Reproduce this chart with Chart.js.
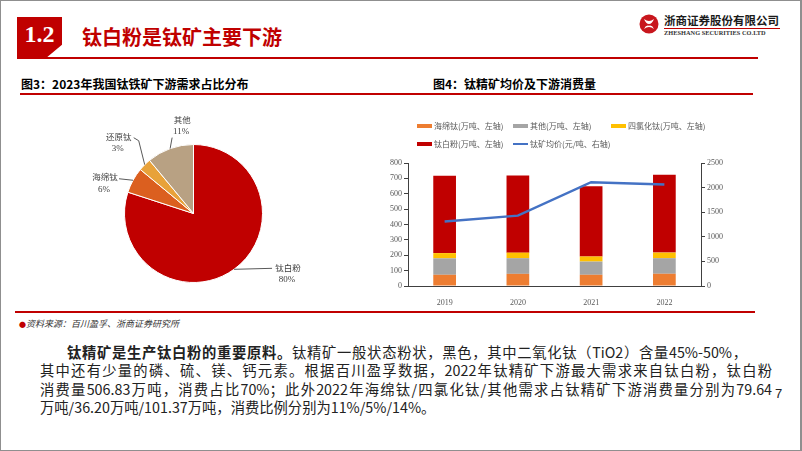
<!DOCTYPE html>
<html><head><meta charset="utf-8">
<script src="https://cdn.jsdelivr.net/npm/chart.js@4.4.1/dist/chart.umd.min.js"></script>
<style>
html,body{margin:0;padding:0;background:#fff;}
#page{position:relative;width:802px;height:451px;overflow:hidden;background:#fff;font-family:"Noto Sans CJK SC","Noto Sans",sans-serif;color:#111;}
#frame{position:absolute;left:0;top:0;width:802px;height:451px;box-sizing:border-box;border:1px solid #8f8f8f;border-right:2px solid #8f8f8f;pointer-events:none;}
.abs{position:absolute;white-space:nowrap;}
#secbox{left:17px;top:17px;width:45px;height:42px;background:#C00000;clip-path:polygon(0 0,100% 0,100% 66%,62% 100%,0 100%);}
#secnum{left:17px;top:19px;width:45px;text-align:center;color:#fff;font:bold 24px "Liberation Serif",serif;line-height:30px;}
#hline{left:17px;top:57px;width:741px;height:2px;background:#C00000;}
#title{left:82px;top:25px;font-weight:bold;font-size:20px;line-height:24px;color:#C00000;}
#logoTxt{left:664px;top:13px;font-weight:bold;font-size:11.5px;line-height:14px;color:#1a1a1a;}
#logoLine{left:664px;top:28px;width:116px;height:1px;background:#C00000;}
#logoEn{left:664px;top:29px;font:bold 6.3px "Liberation Serif",serif;line-height:8px;color:#333;letter-spacing:0.05px;}
.fig{top:76px;font-weight:bold;font-size:12px;line-height:16px;color:#000;}
#figline{left:20px;top:93px;width:733px;height:2px;background:#C00000;}
#noteline{left:15px;top:311px;width:740px;height:2px;background:#C00000;}
#note{left:19px;top:318px;font-size:9px;line-height:12px;font-style:italic;color:#333;}
#note span{color:#C00000;font-style:normal;font-size:7px;}
.para{font-size:14.3px;line-height:18px;color:#222;text-align:justify;text-align-last:justify;}
#pnum{left:775px;top:386px;font:13px "Liberation Sans",sans-serif;color:#222;}
canvas{position:absolute;}
</style></head>
<body>
<div id="page">
  <div class="abs" id="secbox"></div>
  <div class="abs" id="secnum">1.2</div>
  <div class="abs" id="hline"></div>
  <div class="abs" id="title">钛白粉是钛矿主要下游</div>
  <svg class="abs" style="left:639px;top:14px" width="20" height="20" viewBox="0 0 20 20">
    <circle cx="10" cy="10" r="9.5" fill="#C8161D"/>
    <path d="M5 5 Q10 9 15 5 Q13 10 10 10 Q7 10 5 5Z" fill="#fff"/>
    <path d="M5 15 Q10 11 15 15 Q13 10.8 10 11.8 Q7 10.8 5 15Z" fill="#fff"/>
  </svg>
  <div class="abs" id="logoTxt">浙商证券股份有限公司</div>
  <div class="abs" id="logoLine"></div>
  <div class="abs" id="logoEn">ZHESHANG SECURITIES CO.LTD</div>

  <div class="abs fig" style="left:21px">图3：2023年我国钛铁矿下游需求占比分布</div>
  <div class="abs fig" style="left:433px">图4：钛精矿均价及下游消费量</div>
  <div class="abs" id="figline"></div>

  <canvas id="pie" style="left:0px;top:100px;width:400px;height:205px" width="400" height="205"></canvas>
  <canvas id="bar" style="left:370px;top:100px;width:390px;height:205px" width="390" height="205"></canvas>

  <div class="abs" id="noteline"></div>
  <div class="abs" id="note"><span>●</span>资料来源：百川盈孚、浙商证券研究所</div>

  <div class="abs para" style="left:67px;top:343px;width:680px"><b>钛精矿是生产钛白粉的重要原料。</b>钛精矿一般状态粉状，黑色，其中二氧化钛（TiO2）含量45%-50%，</div>
  <div class="abs para" style="left:40px;top:361px;width:732px">其中还有少量的磷、硫、镁、钙元素。根据百川盈孚数据，2022年钛精矿下游最大需求来自钛白粉，钛白粉</div>
  <div class="abs para" style="left:40px;top:380px;width:732px">消费量506.83万吨，消费占比70%；此外2022年海绵钛/四氯化钛/其他需求占钛精矿下游消费量分别为79.64</div>
  <div class="abs para" style="left:40px;top:398px;text-align:left;text-align-last:auto">万吨/36.20万吨/101.37万吨，消费比例分别为11%/5%/14%。</div>
  <div class="abs" id="pnum">7</div>
  <div id="frame"></div>
</div>
<script>
// ---------- data ----------
const pieLabels = ['钛白粉', '海绵钛', '还原钛', '其他'];
const pieValues = [80, 6, 3, 11];

const years = ['2019', '2020', '2021', '2022'];
const spongeTi = [73, 79, 73, 79.64];       // 海绵钛(万吨)
const otherUse = [107, 102, 86, 101.37];    // 其他(万吨)
const ticl4 = [34, 36, 33, 36.20];          // 四氯化钛(万吨)
const tio2 = [503, 502, 457, 506.83];       // 钛白粉(万吨)
const orePrice = [1310, 1430, 2110, 2065];  // 钛矿均价(元/吨)

const leftTicks = [0, 100, 200, 300, 400, 500, 600, 700, 800];
const rightTicks = [0, 500, 1000, 1500, 2000, 2500];

const seriesNames = ['海绵钛(万吨、左轴)', '其他(万吨、左轴)', '四氯化钛(万吨、左轴)', '钛白粉(万吨、左轴)', '钛矿均价(元/吨、右轴)'];

// ---------- pie ----------
const labelLayout = [
  {line: [[38, -1]], t: [54, -2]},
  {line: [[-14, -1.5]], t: [-28, -3]},
  {line: [[-6, -24], [-11, -27]], t: [-26, -28]},
  {line: [[2, -11]], t: [12, -29]}
];
const pieLabelPlugin = {
  id: 'pieLabels',
  afterDatasetsDraw(chart) {
    const ctx = chart.ctx;
    const meta = chart.getDatasetMeta(0);
    const total = chart.data.datasets[0].data.reduce((a, b) => a + b, 0);
    ctx.save();
    meta.data.forEach((arc, i) => {
      const p = arc.getProps(['x', 'y', 'startAngle', 'endAngle', 'outerRadius'], true);
      const mid = (p.startAngle + p.endAngle) / 2;
      const ax = p.x + Math.cos(mid) * p.outerRadius;
      const ay = p.y + Math.sin(mid) * p.outerRadius;
      const L = labelLayout[i];
      ctx.strokeStyle = '#595959';
      ctx.lineWidth = 1;
      ctx.beginPath();
      ctx.moveTo(ax, ay);
      L.line.forEach(pt => ctx.lineTo(ax + pt[0], ay + pt[1]));
      ctx.stroke();
      ctx.fillStyle = '#404040';
      ctx.textAlign = 'center';
      ctx.textBaseline = 'middle';
      ctx.font = '8.5px "Noto Sans CJK SC", sans-serif';
      ctx.fillText(chart.data.labels[i], ax + L.t[0], ay + L.t[1]);
      ctx.font = '9px "Liberation Serif", serif';
      const v = chart.data.datasets[0].data[i];
      ctx.fillText(Math.round(v / total * 100) + '%', ax + L.t[0] - 1, ay + L.t[1] + 12);
    });
    ctx.restore();
  }
};

new Chart(document.getElementById('pie'), {
  type: 'pie',
  data: {
    labels: pieLabels,
    datasets: [{
      data: pieValues,
      backgroundColor: ['#C00000', '#DB5F1F', '#E8A23A', '#B8A183'],
      borderColor: '#ffffff',
      borderWidth: 1
    }]
  },
  options: {
    responsive: false,
    animation: false,
    layout: {padding: {left: 124, right: 137, top: 44, bottom: 22}},
    plugins: {legend: {display: false}, tooltip: {enabled: false}}
  },
  plugins: [pieLabelPlugin]
});

// ---------- bar + line ----------
const legendPlugin = {
  id: 'colLegend',
  afterDraw(chart) {
    const ctx = chart.ctx;
    const cols = [47, 143, 241];
    const rows = [26, 44];
    ctx.save();
    ctx.font = '8px "Noto Sans CJK SC", sans-serif';
    ctx.textBaseline = 'middle';
    ctx.textAlign = 'left';
    chart.data.datasets.forEach((ds, i) => {
      const x = cols[i % 3], y = rows[Math.floor(i / 3)];
      if (ds.type === 'line') {
        ctx.strokeStyle = ds.borderColor;
        ctx.lineWidth = 2;
        ctx.beginPath(); ctx.moveTo(x, y); ctx.lineTo(x + 15, y); ctx.stroke();
      } else {
        ctx.fillStyle = ds.backgroundColor;
        ctx.fillRect(x, y - 2, 15, 4);
      }
      ctx.fillStyle = '#595959';
      ctx.fillText(ds.label, x + 17, y);
    });
    ctx.restore();
  }
};

const tickFont = {family: '"Liberation Serif", serif', size: 8};
const plainTick = v => String(v);
new Chart(document.getElementById('bar'), {
  data: {
    labels: years,
    datasets: [
      {type: 'bar', label: seriesNames[0], data: spongeTi, backgroundColor: '#ED7D31', yAxisID: 'y', order: 1},
      {type: 'bar', label: seriesNames[1], data: otherUse, backgroundColor: '#A5A5A5', yAxisID: 'y', order: 1},
      {type: 'bar', label: seriesNames[2], data: ticl4, backgroundColor: '#FFC000', yAxisID: 'y', order: 1},
      {type: 'bar', label: seriesNames[3], data: tio2, backgroundColor: '#C00000', yAxisID: 'y', order: 1},
      {type: 'line', label: seriesNames[4], data: orePrice, borderColor: '#4472C4', backgroundColor: '#4472C4',
       borderWidth: 2.5, pointRadius: 0, tension: 0, yAxisID: 'y1', order: 0}
    ]
  },
  options: {
    responsive: false,
    animation: false,
    layout: {padding: {top: 63, left: 0, right: 0, bottom: 0}},
    datasets: {bar: {categoryPercentage: 1, barPercentage: 0.31}},
    plugins: {legend: {display: false}, tooltip: {enabled: false}},
    scales: {
      x: {
        stacked: true,
        grid: {display: false},
        border: {color: '#404040', width: 1},
        ticks: {color: '#595959', font: tickFont, padding: 4},
        afterFit(s) { s.height = 19; }
      },
      y: {
        stacked: true,
        position: 'left',
        min: 0, max: 800,
        afterBuildTicks(s) { s.ticks = leftTicks.map(v => ({value: v})); },
        grid: {drawOnChartArea: false, drawTicks: true, tickLength: 4, color: '#404040'},
        border: {color: '#404040', width: 1},
        ticks: {color: '#595959', font: tickFont, padding: 2, callback: plainTick},
        afterFit(s) { s.width = 38; }
      },
      y1: {
        position: 'right',
        min: 0, max: 2500,
        afterBuildTicks(s) { s.ticks = rightTicks.map(v => ({value: v})); },
        grid: {drawOnChartArea: false, drawTicks: true, tickLength: 4, color: '#404040'},
        border: {color: '#404040', width: 1},
        ticks: {color: '#595959', font: tickFont, padding: 2, callback: plainTick},
        afterFit(s) { s.width = 59; }
      }
    }
  },
  plugins: [legendPlugin]
});
</script>
</body></html>
